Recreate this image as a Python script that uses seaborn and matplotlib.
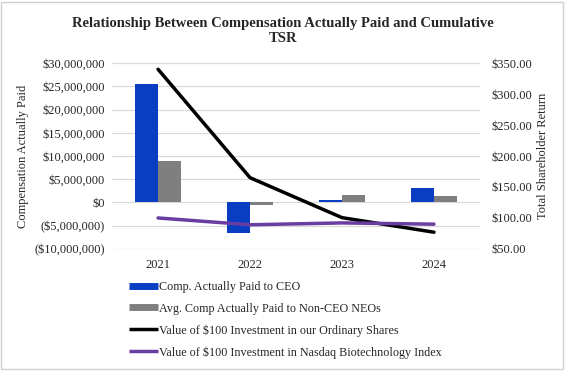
import numpy as np
import pandas as pd
import matplotlib
matplotlib.use("Agg")
import matplotlib.pyplot as plt
import seaborn as sns
from matplotlib.lines import Line2D
from matplotlib.patches import Rectangle
from matplotlib.ticker import FuncFormatter

years = ["2021", "2022", "2023", "2024"]
ceo_cap = [25600000, -6600000, 500000, 3200000]
neo_cap = [8900000, -550000, 1700000, 1300000]
tsr_company = [340.0, 165.0, 100.5, 77.0]
tsr_nasdaq = [100.0, 89.0, 92.0, 90.0]

bar_labels = ["Comp. Actually Paid to CEO", "Avg. Comp Actually Paid to Non-CEO NEOs"]
line_labels = ["Value of $100 Investment in our Ordinary Shares",
               "Value of $100 Investment in Nasdaq Biotechnology Index"]
bar_colors = ["#0A3EC2", "#7F7F7F"]
line_colors = ["#000000", "#6A3DA3"]

sns.set_theme(style="white")
plt.rcParams['font.family'] = ['Liberation Serif', 'DejaVu Serif']

df = pd.DataFrame({
    "year": years * 2,
    "value": ceo_cap + neo_cap,
    "series": [bar_labels[0]] * 4 + [bar_labels[1]] * 4,
})

fig = plt.figure(figsize=(5.66, 3.71), dpi=100)
ax = fig.add_axes([0.198, 0.329, 0.650, 0.501])

sns.barplot(data=df, x="year", y="value", hue="series", palette=bar_colors,
            width=0.5, saturation=1, linewidth=0, ax=ax, legend=False)
ax.set_ylim(-10000000, 30000000)
ax.set_xlim(-0.5, 3.5)
ax.set_yticks(np.arange(-10000000, 30000001, 5000000))


def money(v, pos):
    if v < 0:
        return "(${:,.0f})".format(-v)
    if v == 0:
        return "$0"
    return "${:,.0f}".format(v)


ax.yaxis.set_major_formatter(FuncFormatter(money))
ax.grid(axis="y", color="#D9D9D9", lw=0.9)
ax.set_axisbelow(True)
ax.set_xlabel("")
ax.set_ylabel("Compensation Actually Paid", fontsize=9)
ax.tick_params(axis="y", length=0, labelsize=9, pad=5)
ax.tick_params(axis="x", length=0, labelsize=9, pad=7)
for s in ax.spines.values():
    s.set_visible(False)

ax2 = ax.twinx()
xs = np.arange(len(years))
sns.lineplot(x=xs, y=tsr_company, color=line_colors[0], lw=2.5, ax=ax2, sort=False)
sns.lineplot(x=xs, y=tsr_nasdaq, color=line_colors[1], lw=2.5, ax=ax2, sort=False)
ax2.set_ylim(50, 350)
ax2.set_yticks(np.arange(50, 351, 50))
ax2.yaxis.set_major_formatter(FuncFormatter(lambda v, p: "${:,.2f}".format(v)))
ax2.set_ylabel("Total Shareholder Return", fontsize=9)
ax2.tick_params(axis="both", length=0, labelsize=9, pad=8)
ax2.grid(False)
for s in ax2.spines.values():
    s.set_visible(False)
ax.set_xlim(-0.5, 3.5)

fig.suptitle("Relationship Between Compensation Actually Paid and Cumulative\nTSR",
             fontsize=10.5, fontweight="bold", y=0.955, linespacing=1.2)

handles = [Line2D([], [], color=bar_colors[0], lw=5, solid_capstyle="butt"),
           Line2D([], [], color=bar_colors[1], lw=5, solid_capstyle="butt"),
           Line2D([], [], color=line_colors[0], lw=2.5, solid_capstyle="butt"),
           Line2D([], [], color=line_colors[1], lw=2.5, solid_capstyle="butt")]
fig.legend(handles, bar_labels + line_labels, loc="upper left",
           bbox_to_anchor=(0.22, 0.255), frameon=False, fontsize=8.7,
           handlelength=2.4, handletextpad=0.05, labelspacing=0.78, borderaxespad=0)

fig.patches.append(Rectangle((0.002, 0.005), 0.993, 0.99, transform=fig.transFigure,
                             fill=False, edgecolor="#D0D0D0", lw=1))

fig.savefig("out.png", dpi=100)
